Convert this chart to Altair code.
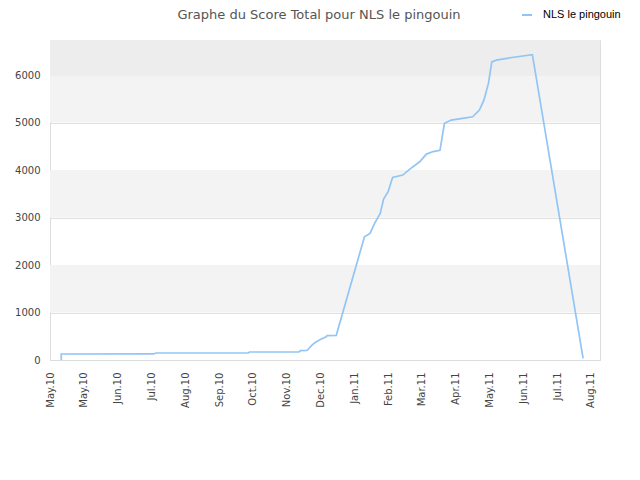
import altair as alt
import pandas as pd

# --- data ---
dates = ["2010-05-11", "2010-05-11", "2010-08-01", "2010-08-03", "2010-10-24",
         "2010-10-25", "2010-12-08", "2010-12-09", "2010-12-15", "2010-12-19",
         "2010-12-22", "2010-12-26", "2011-01-01", "2011-01-02", "2011-01-10",
         "2011-02-04", "2011-02-09", "2011-02-13", "2011-02-18", "2011-02-21",
         "2011-02-25", "2011-03-01", "2011-03-10", "2011-03-16", "2011-03-25",
         "2011-03-31", "2011-04-06", "2011-04-12", "2011-04-16", "2011-04-22",
         "2011-05-02", "2011-05-11", "2011-05-17", "2011-05-21", "2011-05-25",
         "2011-05-28", "2011-06-01", "2011-06-15", "2011-07-03", "2011-08-17"]
scores = [0, 126, 128, 147, 150, 168, 172, 196, 200, 301,
          364, 421, 491, 512, 520, 2596, 2667, 2877, 3088, 3389,
          3544, 3846, 3895, 4014, 4175, 4337, 4390, 4415, 4985, 5053,
          5088, 5123, 5263, 5474, 5825, 6280, 6316, 6372, 6430, 35]
series_name = "NLS le pingouin"

tick_dates = [(2010, 5, 1), (2010, 5, 31), (2010, 6, 30), (2010, 7, 30),
              (2010, 8, 29), (2010, 9, 28), (2010, 10, 28), (2010, 11, 27),
              (2010, 12, 27), (2011, 1, 26), (2011, 2, 25), (2011, 3, 27),
              (2011, 4, 26), (2011, 5, 26), (2011, 6, 25), (2011, 7, 25),
              (2011, 8, 24)]
y_ticks = [0, 1000, 2000, 3000, 4000, 5000, 6000]

band_lo = [1000, 3000, 5000, 6000]
band_hi = [2000, 4000, 6000, 6740]
band_fill = ["#f3f3f3", "#f3f3f3", "#f3f3f3", "#ededed"]

df = pd.DataFrame({"date": dates, "score": scores,
                   "i": list(range(len(dates))),
                   "serie": [series_name] * len(dates)})
bands = pd.DataFrame({"lo": band_lo, "hi": band_hi, "f": band_fill})

x_scale = alt.Scale(type="utc",
                    domain=[alt.DateTime(year=2010, month=5, date=1, utc=True),
                            alt.DateTime(year=2011, month=9, date=1, utc=True)])
y_scale = alt.Scale(domain=[0, 6740], nice=False, zero=True)

band_layer = alt.Chart(bands).mark_rect().encode(
    y=alt.Y("lo:Q", scale=y_scale),
    y2="hi:Q",
    fill=alt.Fill("f:N", scale=None),
)

line_layer = alt.Chart(df).mark_line(strokeWidth=1.7, interpolate="linear").encode(
    x=alt.X("date:T", scale=x_scale, title=None,
            axis=alt.Axis(values=[alt.DateTime(year=y, month=m, date=d, utc=True)
                                  for (y, m, d) in tick_dates],
                          format="%b.%y", labelAngle=270, grid=False, ticks=False,
                          labelPadding=12, labelFontSize=10, labelFont="DejaVu Sans",
                          labelColor="#444444", domainColor="#dddddd",
                          labelOverlap=False)),
    y=alt.Y("score:Q", scale=y_scale, title=None,
            axis=alt.Axis(values=y_ticks, format="d", grid=True, gridColor="#e0e0e0",
                          ticks=False, labelPadding=10, labelFontSize=10,
                          labelFont="DejaVu Sans", labelColor="#444444",
                          domainColor="#dddddd")),
    color=alt.Color("serie:N", scale=alt.Scale(range=["#92c5f5"]),
                    legend=alt.Legend(title=None, orient="none", legendX=471,
                                      legendY=-31, symbolType="stroke",
                                      symbolSize=100, symbolStrokeWidth=2,
                                      labelFont="Liberation Sans", labelFontSize=11,
                                      labelColor="#000000", labelOffset=10,
                                      padding=0)),
    order="i:Q",
)

chart = alt.layer(band_layer, line_layer).properties(
    width=550, height=320,
    autosize=alt.AutoSizeParams(type="none"),
    padding={"left": 42, "top": 32, "right": 32, "bottom": 112},
    title=alt.TitleParams("Graphe du Score Total pour NLS le pingouin",
                          font="DejaVu Sans", fontSize=13, fontWeight="normal",
                          color="#555555", anchor="middle", offset=-13, dx=-6),
).configure_view(stroke="#dddddd").configure(background="white")

chart.save("out.html", embed_options={"renderer": "svg", "actions": False})
